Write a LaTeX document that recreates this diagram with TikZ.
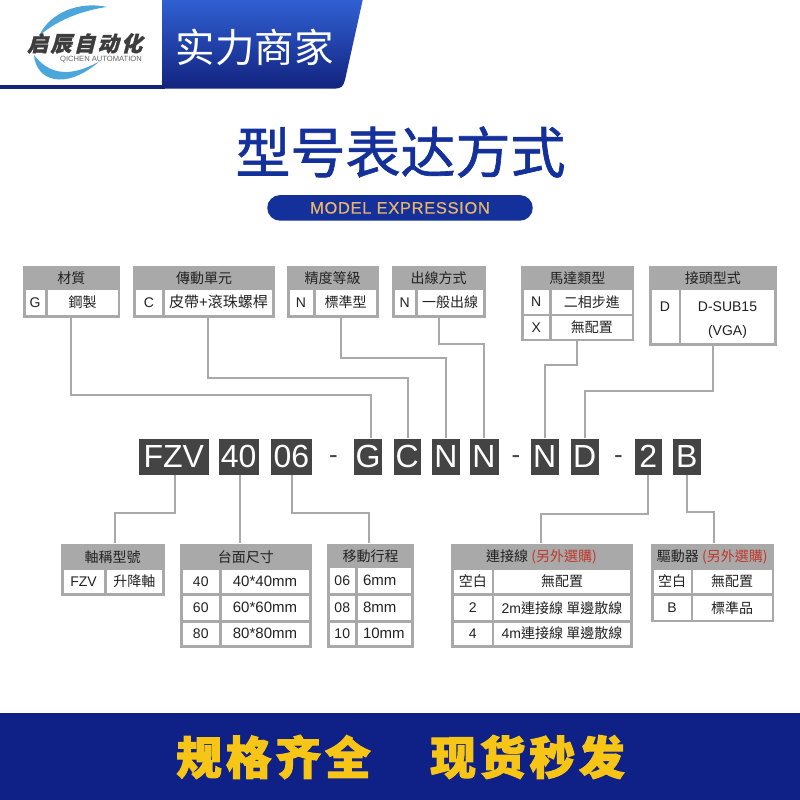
\documentclass[tikz,border=0pt]{standalone}
\usepackage{fontspec}
\setmainfont{Liberation Sans}
\newfontfamily\tcfont{Noto Sans CJK TC}
\newfontfamily\scfont{Noto Sans CJK SC}
\newfontfamily\titlefont[FakeBold=1.2]{Noto Sans CJK SC}
\newfontfamily\logofont[FakeSlant=0.25,FakeBold=1.5,LetterSpace=12]{Noto Sans CJK SC}
\newfontfamily\slogfont[LetterSpace=9,FakeBold=2.5]{Noto Sans CJK SC}
\newcommand{\zh}[1]{{\tcfont #1}}
\usetikzlibrary{positioning}
\definecolor{navy}{HTML}{14309A}
\definecolor{deepblue}{HTML}{0F2186}
\definecolor{bannerhi}{HTML}{3060D2}
\definecolor{bannerlo}{HTML}{12237F}
\definecolor{sky}{HTML}{4BA6DC}
\definecolor{panelgray}{HTML}{A9A9A9}
\definecolor{codegray}{HTML}{444444}
\definecolor{inkdark}{HTML}{222222}
\definecolor{optred}{HTML}{C0392B}
\definecolor{slogan}{HTML}{F6C516}
\definecolor{pilltext}{HTML}{EAB56A}

\begin{document}
\begin{tikzpicture}[
  x=1pt, y=-1pt,
  wh/.style 2 args={minimum width=#1pt, minimum height=#2pt},
  panel/.style={fill=panelgray, inner sep=0pt},
  head/.style={text=inkdark, inner sep=0pt, font=\fontsize{14}{16}\selectfont\tcfont},
  cell/.style={fill=white, text=inkdark, inner sep=0pt, align=center, font=\fontsize{14}{16}\selectfont},
  tall/.style={cell, font=\fontsize{14}{24}\selectfont},
  codebox/.style={fill=codegray, text=white, inner sep=0pt, minimum height=36pt, font=\fontsize{32}{36}\selectfont},
  hyphen/.style={text=codegray, inner sep=0pt, font=\fontsize{26}{28}\selectfont},
  link/.style={draw=panelgray, line width=2pt}
]
\useasboundingbox (0,0) rectangle (800,800);
\fill[white] (0,0) rectangle (800,800);

% top banner
\shade[top color=bannerhi, bottom color=bannerlo] (162,0) -- (362.7,0) -- (345,80)
  .. controls (343.5,86) and (341,88.5) .. (336,88.5) -- (162,88.5) -- cycle;
\fill[bannerlo] (0,85) rectangle (165,88.5);
\fill[sky] (107,7) .. controls (80,1) and (50,12) .. (39,36) .. controls (58,19) and (85,10) .. cycle;
\fill[sky] (34,55) .. controls (36,80) and (64,92) .. (100,61) .. controls (72,77) and (50,76) .. cycle;
\node[inner sep=0pt, text=codegray!90!black, font=\fontsize{21}{23}\selectfont\logofont\bfseries] (logoname) at (84.5,43.5) {启辰自动化};
\node[inner sep=0pt, text=black!60, font=\fontsize{7.6}{9}\selectfont] (logosub) at (101,60) {QICHEN AUTOMATION};
\node[inner sep=0pt, text=white, font=\fontsize{39.5}{42}\selectfont\scfont] (bannertext) at (254.5,47) {实力商家};

% title
\node[inner sep=0pt, text=navy, font=\fontsize{55}{60}\selectfont\titlefont] (title) at (400.5,152) {型号表达方式};
\node[fill=navy, rounded corners=12.8pt, wh={265.5}{25.6}, inner sep=0pt, text=pilltext,
  font=\fontsize{16.5}{18}\selectfont\addfontfeature{LetterSpace=4,FakeBold=0.4}] (pill) at (400,207.9) {MODEL EXPRESSION};

% upper tables
\node[panel, wh={97.5}{52}] (matP) at (71.25,291.5) {};
\node[head] (matH) at (71.25,278) {材質};
\node[cell, wh={19}{24.5}] (matA) at (35,302.25) {G};
\node[cell, wh={70}{24.5}] (matB) at (82.5,302.25) {\zh{鋼製}};

\node[panel, wh={142}{52}] (drvP) at (204,291.5) {};
\node[head] (drvH) at (204,278) {傳動單元};
\node[cell, wh={26}{24.5}] (drvA) at (149,302.25) {C};
\node[cell, wh={107}{24.5}, font=\fontsize{15}{17}\selectfont] (drvB) at (218.5,302.25) {\zh{皮帶}+\zh{滾珠螺桿}};

\node[panel, wh={92}{52}] (preP) at (332.5,291.5) {};
\node[head] (preH) at (332.5,278) {精度等級};
\node[cell, wh={23}{24.5}] (preA) at (301,302.25) {N};
\node[cell, wh={60}{24.5}] (preB) at (345.5,302.25) {\zh{標準型}};

\node[panel, wh={94}{52}] (outP) at (438.5,291.5) {};
\node[head] (outH) at (438.5,278) {出線方式};
\node[cell, wh={20.5}{24.5}] (outA) at (404.75,302.25) {N};
\node[cell, wh={65}{24.5}] (outB) at (450,302.25) {\zh{一般出線}};

\node[panel, wh={113.5}{75.5}] (motP) at (577.25,303.25) {};
\node[head] (motH) at (577.25,278) {馬達類型};
\node[cell, wh={25.5}{23.5}] (motA) at (536.25,301.75) {N};
\node[cell, wh={79.5}{23.5}] (motB) at (591.75,301.75) {\zh{二相步進}};
\node[cell, wh={25.5}{22.5}] (motC) at (536.25,327.25) {X};
\node[cell, wh={79.5}{22.5}] (motD) at (591.75,327.25) {\zh{無配置}};

\node[panel, wh={127.5}{80}] (jntP) at (712.75,305.5) {};
\node[head] (jntH) at (712.75,278) {接頭型式};
\node[tall, wh={27}{53}] (jntA) at (665,316.5) {\rule{0pt}{16pt}D\\\rule[-3pt]{0pt}{1pt}};
\node[tall, wh={93}{53}] (jntB) at (727.5,316.5) {\rule{0pt}{16pt}D-SUB15\\(VGA)};

% model code
\node[codebox, minimum width=69.5pt] (codeF) at (173.75,456.5) {FZV};
\node[codebox, minimum width=39.5pt] (codeS) at (238.75,456.5) {40};
\node[codebox, minimum width=41pt] (codeT) at (291.5,456.5) {06};
\node[hyphen] (dashA) at (333.5,460) {-};
\node[codebox, minimum width=28pt] (codeG) at (368,456.5) {G};
\node[codebox, minimum width=27.5pt] (codeC) at (407.25,456.5) {C};
\node[codebox, minimum width=28pt] (codeNa) at (446,456.5) {N};
\node[codebox, minimum width=29pt] (codeNb) at (484,456.5) {N};
\node[hyphen] (dashB) at (516,460) {-};
\node[codebox, minimum width=28.5pt] (codeNc) at (544.75,456.5) {N};
\node[codebox, minimum width=28.5pt] (codeD) at (584.75,456.5) {D};
\node[hyphen] (dashC) at (618.5,460) {-};
\node[codebox, minimum width=27.5pt] (codeL) at (648.25,456.5) {2};
\node[codebox, minimum width=28.5pt] (codeB) at (686.75,456.5) {B};

% lower tables
\node[panel, wh={104}{52}] (axsP) at (112.5,569.5) {};
\node[head] (axsH) at (112.5,557) {軸稱型號};
\node[cell, wh={40}{23.5}] (axsA) at (83.5,581.25) {FZV};
\node[cell, wh={55.5}{23.5}] (axsB) at (134.25,581.25) {\zh{升降軸}};

\node[panel, wh={131.5}{104}] (tabP) at (245.75,595.5) {};
\node[head] (tabH) at (245.75,557) {台面尺寸};
\node[cell, wh={35.5}{23.5}] (tabA) at (200.75,581.25) {40};
\node[cell, wh={87}{23.5}] (tabB) at (265,581.25) {\fontsize{15}{17}\selectfont 40*40mm};
\node[cell, wh={35.5}{23.5}] (tabC) at (200.75,607.75) {60};
\node[cell, wh={87}{23.5}] (tabD) at (265,607.75) {\fontsize{15}{17}\selectfont 60*60mm};
\node[cell, wh={35.5}{22}] (tabE) at (200.75,633.5) {80};
\node[cell, wh={87}{22}] (tabF) at (265,633.5) {\fontsize{15}{17}\selectfont 80*80mm};

\node[panel, wh={87}{104}] (trvP) at (370.5,595.5) {};
\node[head] (trvH) at (370.5,556) {移動行程};
\node[cell, wh={25.5}{25}] (trvA) at (342.25,580.5) {06};
\node[cell, wh={53}{25}, text width=43pt, align=left] (trvB) at (384.5,580.5) {\fontsize{15}{17}\selectfont 6mm};
\node[cell, wh={25.5}{23.5}] (trvC) at (342.25,607.75) {08};
\node[cell, wh={53}{23.5}, text width=43pt, align=left] (trvD) at (384.5,607.75) {\fontsize{15}{17}\selectfont 8mm};
\node[cell, wh={25.5}{22}] (trvE) at (342.25,633.5) {10};
\node[cell, wh={53}{22}, text width=43pt, align=left] (trvF) at (384.5,633.5) {\fontsize{15}{17}\selectfont 10mm};

\node[panel, wh={182}{104}] (wirP) at (541.5,595.5) {};
\node[head] (wirH) at (541.5,557) {連接線 \textcolor{optred}{(另外選購)}};
\node[cell, wh={38.5}{23.5}] (wirA) at (472.75,581.25) {\zh{空白}};
\node[cell, wh={136}{23.5}] (wirB) at (562,581.25) {\zh{無配置}};
\node[cell, wh={38.5}{23.5}] (wirC) at (472.75,607.75) {2};
\node[cell, wh={136}{23.5}] (wirD) at (562,607.75) {2m\zh{連接線 單邊散線}};
\node[cell, wh={38.5}{22}] (wirE) at (472.75,633.5) {4};
\node[cell, wh={136}{22}] (wirF) at (562,633.5) {4m\zh{連接線 單邊散線}};

\node[panel, wh={123.5}{78.5}] (dvrP) at (712.25,582.75) {};
\node[head] (dvrH) at (712.25,557) {驅動器 \textcolor{optred}{(另外選購)}};
\node[cell, wh={37}{23.5}] (dvrA) at (672,581.25) {\zh{空白}};
\node[cell, wh={79}{23.5}] (dvrB) at (732,581.25) {\zh{無配置}};
\node[cell, wh={37}{23.5}] (dvrC) at (672,607.75) {B};
\node[cell, wh={79}{23.5}] (dvrD) at (732,607.75) {\zh{標準品}};

% connectors
\draw[link] (matP.south) -- ++(0,77.5) -| ([xshift=3pt]codeG.north);
\draw[link] ([xshift=3.5pt]drvP.south) -- ++(0,60) -| ([xshift=1pt]codeC.north);
\draw[link] ([xshift=8.5pt]preP.south) -- ++(0,40.5) -| (codeNa.north);
\draw[link] (outP.south) -- ++(0,26.5) -| (codeNb.north);
\draw[link] (motP.south) -- ++(0,24) -| (codeNc.north);
\draw[link] (jntP.south) -- ++(0,45.5) -| (codeD.north);
\draw[link] ([xshift=1pt]codeF.south) -- ++(0,38) -| ([xshift=2pt]axsP.north);
\draw[link] ([xshift=1.5pt]codeS.south) -- ([xshift=-5.5pt]tabP.north);
\draw[link] (codeT.south) -- ++(0,38) -| ([xshift=-2pt]trvP.north);
\draw[link] (codeL.south) -- ++(0,39.5) -| ([xshift=-1pt]wirP.north);
\draw[link] (codeB.south) -- ++(0,37.5) -| ([xshift=2pt]dvrP.north);

% bottom band
\fill[deepblue] (0,713) rectangle (800,800);
\node[inner sep=0pt, text=slogan, font=\fontsize{45.5}{48}\selectfont\slogfont\bfseries] (sloganA) at (273.5,757) {规格齐全};
\node[inner sep=0pt, text=slogan, font=\fontsize{45.5}{48}\selectfont\slogfont\bfseries] (sloganB) at (527.5,757) {现货秒发};
\end{tikzpicture}
\end{document}
